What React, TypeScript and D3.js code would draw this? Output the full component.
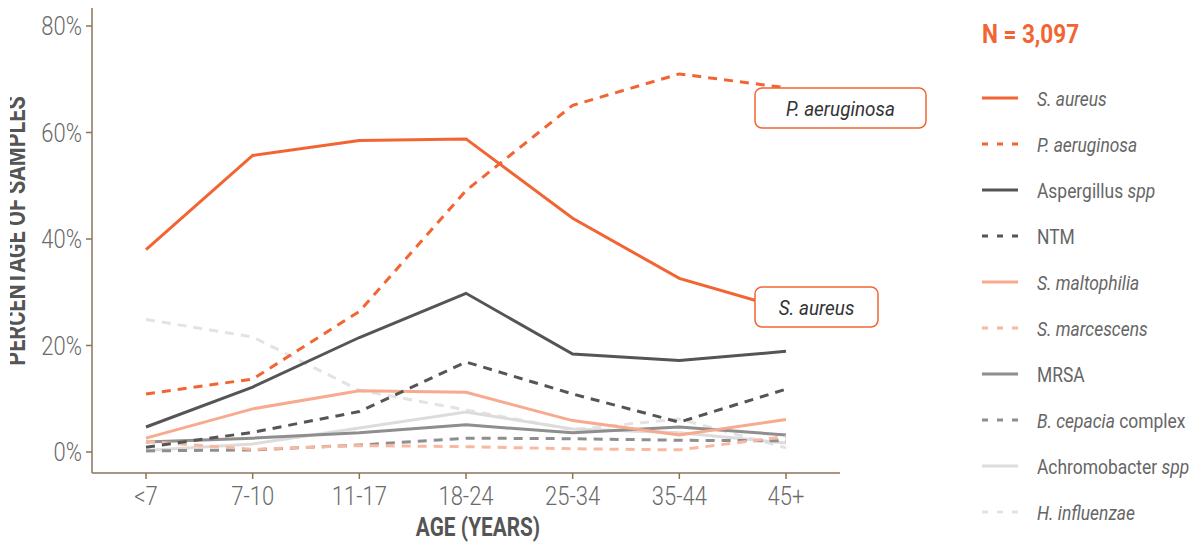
import React from "react";
import * as d3 from "d3";

const categories = ["<7", "7-10", "11-17", "18-24", "25-34", "35-44", "45+"];
const yTicks = [0, 20, 40, 60, 80];

const sAureus = [38.0, 55.7, 58.5, 58.8, 43.9, 32.6, 26.8];
const pAeruginosa = [10.9, 13.7, 26.4, 49.1, 65.1, 71.0, 68.4];
const aspergillus = [4.7, 12.2, 21.5, 29.8, 18.4, 17.2, 18.9];
const ntm = [0.9, 3.7, 7.6, 16.9, 10.9, 5.6, 11.8];
const sMaltophilia = [2.6, 8.1, 11.5, 11.2, 5.9, 3.2, 6.1];
const sMarcescens = [2.0, 0.5, 1.2, 1.0, 0.6, 0.4, 2.9];
const mrsa = [1.9, 2.6, 3.6, 5.1, 3.6, 4.7, 3.2];
const bCepacia = [0.2, 0.4, 1.3, 2.6, 2.5, 2.2, 2.1];
const achromobacter = [0.3, 1.5, 4.5, 7.5, 4.3, 3.6, 1.7];
const hInfluenzae = [24.9, 21.6, 11.6, 7.9, 4.2, 6.2, 0.8];

const seriesNames = [
  "S. aureus",
  "P. aeruginosa",
  "Aspergillus spp",
  "NTM",
  "S. maltophilia",
  "S. marcescens",
  "MRSA",
  "B. cepacia complex",
  "Achromobacter spp",
  "H. influenzae",
];
const seriesValues = [
  sAureus,
  pAeruginosa,
  aspergillus,
  ntm,
  sMaltophilia,
  sMarcescens,
  mrsa,
  bCepacia,
  achromobacter,
  hInfluenzae,
];
const seriesColors = [
  "#F26532",
  "#F26532",
  "#555555",
  "#555555",
  "#F7AA8E",
  "#F9B8A0",
  "#8E8E8E",
  "#8E8E8E",
  "#DCDCDC",
  "#E3E3E3",
];
const seriesDashed = [false, true, false, true, false, true, false, true, false, true];

const annotations = [
  { label: "P. aeruginosa", series: 1 },
  { label: "S. aureus", series: 0 },
];

const FONT = "Roboto, 'Liberation Sans', sans-serif";
const AXIS = "#8C7358";
const ORANGE = "#F26532";

function T({
  x,
  y,
  sx = 0.85,
  rotate = 0,
  anchor = "start",
  children,
  ...rest
}: any) {
  return (
    <text
      transform={`translate(${x},${y})${rotate ? ` rotate(${rotate})` : ""} scale(${sx},1)`}
      textAnchor={anchor}
      {...rest}
    >
      {children}
    </text>
  );
}

function LegendLabel({ name }: { name: string }) {
  if (name === "Aspergillus spp")
    return (
      <>
        Aspergillus <tspan fontStyle="italic">spp</tspan>
      </>
    );
  if (name === "Achromobacter spp")
    return (
      <>
        Achromobacter <tspan fontStyle="italic">spp</tspan>
      </>
    );
  if (name === "B. cepacia complex")
    return (
      <>
        <tspan fontStyle="italic">B. cepacia</tspan> complex
      </>
    );
  if (name === "NTM" || name === "MRSA") return <>{name}</>;
  return <tspan fontStyle="italic">{name}</tspan>;
}

export default function App() {
  const width = 1189;
  const height = 542;
  const x = d3.scalePoint<string>().domain(categories).range([146, 786]);
  const y = d3.scaleLinear().domain([0, 80]).range([452, 26]);
  const line = d3
    .line<number>()
    .x((_, i) => x(categories[i]) as number)
    .y((d) => y(d));

  const axisX0 = 92;
  const axisY0 = 473;
  const order = d3.range(seriesNames.length).reverse();

  const boxes = [
    { x: 755, y: 88, w: 171, h: 40 },
    { x: 755, y: 287, w: 123, h: 40 },
  ];

  return (
    <svg
      width={width}
      height={height}
      style={{ position: "absolute", left: 0, top: 0, background: "#fff" }}
      fontFamily={FONT}
    >
      <defs>
        <clipPath id="ytitleclip">
          <rect x={10} y={0} width={40} height={542} />
        </clipPath>
      </defs>

      {/* Y axis */}
      <line x1={axisX0} x2={axisX0} y1={8} y2={axisY0} stroke={AXIS} strokeWidth={1.5} />
      {yTicks.map((t) => (
        <g key={t}>
          <line x1={axisX0 - 6} x2={axisX0} y1={y(t)} y2={y(t)} stroke={AXIS} strokeWidth={1.5} />
          <T x={82} y={y(t) + 9} sx={0.88} anchor="end" fontSize={25} fontWeight={300} fill="#6a6a6a">
            {t}%
          </T>
        </g>
      ))}
      <g clipPath="url(#ytitleclip)">
        <T
          x={25}
          y={231}
          rotate={-90}
          sx={0.83}
          anchor="middle"
          fontSize={26}
          fontWeight="bold"
          fill="#555"
        >
          PERCENTAGE OF SAMPLES
        </T>
      </g>

      {/* X axis */}
      <line x1={axisX0} x2={840} y1={axisY0} y2={axisY0} stroke={AXIS} strokeWidth={1.5} />
      {categories.map((c) => (
        <g key={c}>
          <line
            x1={x(c)}
            x2={x(c)}
            y1={axisY0}
            y2={axisY0 + 6}
            stroke={AXIS}
            strokeWidth={1.5}
          />
          <T x={x(c)} y={505} sx={0.88} anchor="middle" fontSize={25} fontWeight={300} fill="#6a6a6a">
            {c}
          </T>
        </g>
      ))}
      <T x={478} y={536} sx={0.8} anchor="middle" fontSize={26} fontWeight="bold" fill="#555">
        AGE (YEARS)
      </T>

      {/* Lines */}
      {order.map((i) => (
        <path
          key={seriesNames[i]}
          d={line(seriesValues[i]) || ""}
          fill="none"
          stroke={seriesColors[i]}
          strokeWidth={3}
          strokeDasharray={seriesDashed[i] ? "9,7" : undefined}
        />
      ))}

      {/* Annotation boxes */}
      {annotations.map((a, k) => (
        <g key={a.label}>
          <rect
            x={boxes[k].x}
            y={boxes[k].y}
            width={boxes[k].w}
            height={boxes[k].h}
            rx={7}
            fill="#fff"
            stroke={ORANGE}
            strokeWidth={1.5}
          />
          <T
            x={boxes[k].x + boxes[k].w / 2}
            y={boxes[k].y + boxes[k].h / 2 + 7.5}
            sx={0.9}
            anchor="middle"
            fontSize={21}
            fontStyle="italic"
            fill="#333"
          >
            {a.label}
          </T>
        </g>
      ))}

      {/* Legend */}
      <T x={982} y={43} sx={0.9} fontSize={25} fontWeight="bold" fill={ORANGE}>
        N = 3,097
      </T>
      {seriesNames.map((n, i) => {
        const ly = 98 + i * 46;
        return (
          <g key={n}>
            <line
              x1={982}
              x2={1018}
              y1={ly}
              y2={ly}
              stroke={seriesColors[i]}
              strokeWidth={3}
              strokeDasharray={seriesDashed[i] ? "6,9" : undefined}
            />
            <T x={1037} y={ly + 7.5} sx={0.83} fontSize={21} fill="#666">
              <LegendLabel name={n} />
            </T>
          </g>
        );
      })}
    </svg>
  );
}
